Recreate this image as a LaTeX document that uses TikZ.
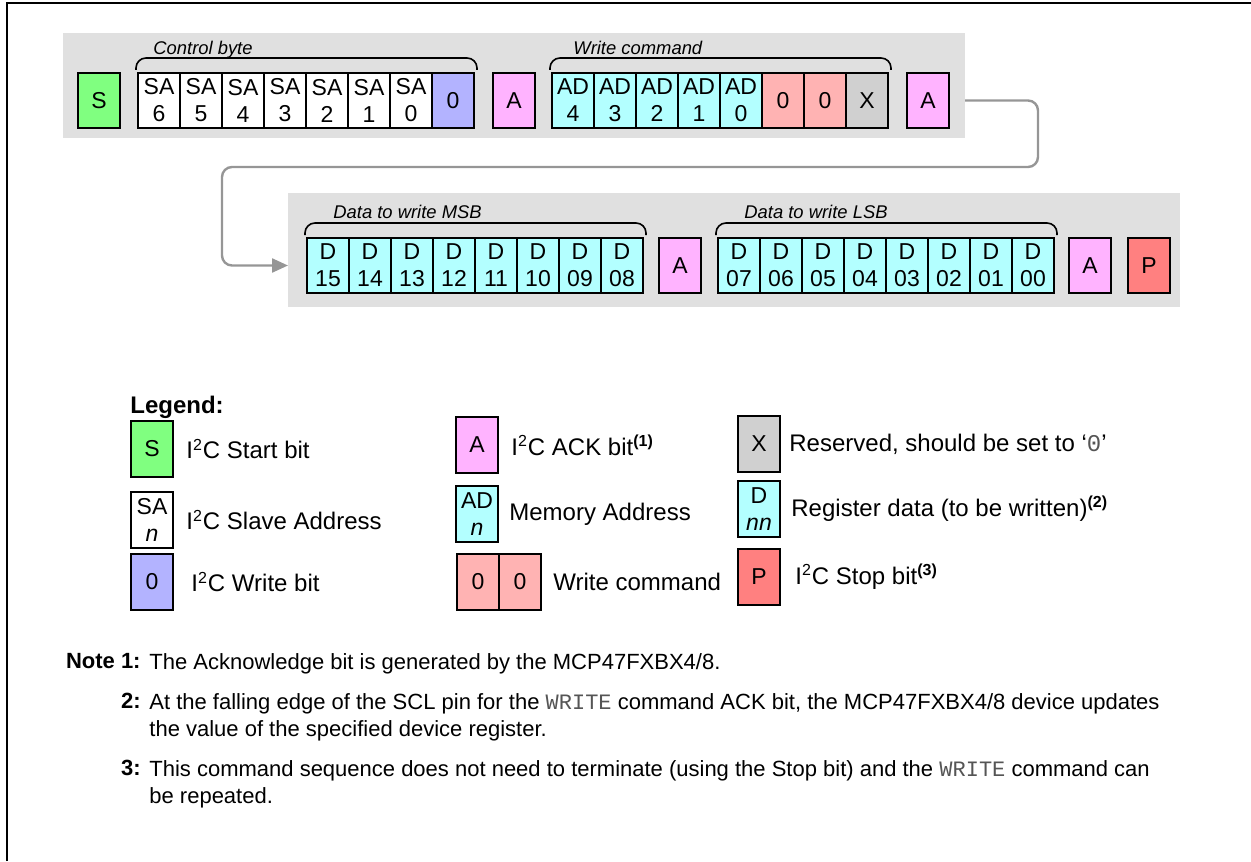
\documentclass[tikz,border=0pt]{standalone}
\usepackage{fontspec}
\setmainfont{Liberation Sans}
\setmonofont{Liberation Mono}
\usepackage{xcolor}
\usetikzlibrary{arrows.meta, positioning}
\definecolor{bandgray}{HTML}{E0E0E0}
\definecolor{startgreen}{HTML}{80FF80}
\definecolor{wrblue}{HTML}{B3B3FF}
\definecolor{ackpink}{HTML}{FFB3FF}
\definecolor{addrcyan}{HTML}{B3FFFF}
\definecolor{cmdsalmon}{HTML}{FFB3B3}
\definecolor{rsvgray}{HTML}{D0D0D0}
\definecolor{stopred}{HTML}{FF8080}
\definecolor{linkgray}{HTML}{969696}
\definecolor{monogray}{HTML}{555555}
\newcommand{\regname}[1]{{\ttfamily\color{monogray}#1}}

\begin{document}
\begin{tikzpicture}[x=0.5pt, y=-0.5pt,
  bit/.style={rectangle, draw=black, line width=0.8pt, fill=#1,
    minimum width=21pt, minimum height=27.5pt, inner sep=0pt, outer sep=0pt,
    align=center, font=\fontsize{11.5}{13.5}\selectfont},
  bit/.default=white,
  key/.style={bit=#1, minimum height=28pt},
  key/.default=white,
  grp/.style={draw=black, line width=0.8pt, rounded corners=5pt},
  grplbl/.style={inner sep=0pt, anchor=base west, font=\fontsize{9.2}{11}\selectfont\itshape},
  desc/.style={inner sep=0pt, font=\fontsize{12}{14}\selectfont},
  link/.style={draw=linkgray, line width=1.2pt, rounded corners=5pt,
    -{Triangle[length=8pt, width=7pt]}},
  note/.style={inner sep=0pt, anchor=north west, align=left, font=\fontsize{11}{13.5}\selectfont},
  notelbl/.style={inner sep=0pt, anchor=north east, font=\fontsize{11}{13.5}\selectfont\bfseries},
]
  \useasboundingbox (0,0) rectangle (1251,861);
  \draw[line width=1pt] (7,861) -- (7,3) -- (1251,3);

  % grey bands behind the two frames
  \fill[bandgray] (63,33) rectangle (965,138);
  \fill[bandgray] (288,193) rectangle (1180,307);

  % control byte and write command
  \node[bit=startgreen] (start) at (99,100.5) {S};
  \node[bit, right=9pt of start] (sa6) {SA\\6};
  \node[bit, right=0pt of sa6] (sa5) {SA\\5};
  \node[bit, right=0pt of sa5] (sa4) {SA\\4};
  \node[bit, right=0pt of sa4] (sa3) {SA\\3};
  \node[bit, right=0pt of sa3] (sa2) {SA\\2};
  \node[bit, right=0pt of sa2] (sa1) {SA\\1};
  \node[bit, right=0pt of sa1] (sa0) {SA\\0};
  \node[bit=wrblue, right=0pt of sa0] (wr) {0};
  \node[bit=ackpink, right=9.5pt of wr] (ack1) {A};
  \node[bit=addrcyan, right=8.5pt of ack1] (ad4) {AD\\4};
  \node[bit=addrcyan, right=0pt of ad4] (ad3) {AD\\3};
  \node[bit=addrcyan, right=0pt of ad3] (ad2) {AD\\2};
  \node[bit=addrcyan, right=0pt of ad2] (ad1) {AD\\1};
  \node[bit=addrcyan, right=0pt of ad1] (ad0) {AD\\0};
  \node[bit=cmdsalmon, right=0pt of ad0] (cmd1) {0};
  \node[bit=cmdsalmon, right=0pt of cmd1] (cmd0) {0};
  \node[bit=rsvgray, right=0pt of cmd0] (rsv) {X};
  \node[bit=ackpink, right=9.5pt of rsv] (ack2) {A};

  \draw[grp] ([shift={(-1pt,1.5pt)}]sa6.north west) -- ++(0,6pt) -| ([shift={(1.5pt,1.5pt)}]wr.north east);
  \node[grplbl] (ctrl) at ([shift={(7.5pt,9pt)}]sa6.north west) {Control byte};
  \draw[grp] ([shift={(-1pt,1.5pt)}]ad4.north west) -- ++(0,6pt) -| ([shift={(1.5pt,1.5pt)}]rsv.north east);
  \node[grplbl] (wcmd) at ([shift={(10.5pt,9pt)}]ad4.north west) {Write command};

  % data bytes
  \node[bit=addrcyan] (d15) at (328,265.5) {D\\15};
  \node[bit=addrcyan, right=0pt of d15] (d14) {D\\14};
  \node[bit=addrcyan, right=0pt of d14] (d13) {D\\13};
  \node[bit=addrcyan, right=0pt of d13] (d12) {D\\12};
  \node[bit=addrcyan, right=0pt of d12] (d11) {D\\11};
  \node[bit=addrcyan, right=0pt of d11] (d10) {D\\10};
  \node[bit=addrcyan, right=0pt of d10] (d09) {D\\09};
  \node[bit=addrcyan, right=0pt of d09] (d08) {D\\08};
  \node[bit=ackpink, right=8pt of d08] (ack3) {A};
  \node[bit=addrcyan, right=8.5pt of ack3] (d07) {D\\07};
  \node[bit=addrcyan, right=0pt of d07] (d06) {D\\06};
  \node[bit=addrcyan, right=0pt of d06] (d05) {D\\05};
  \node[bit=addrcyan, right=0pt of d05] (d04) {D\\04};
  \node[bit=addrcyan, right=0pt of d04] (d03) {D\\03};
  \node[bit=addrcyan, right=0pt of d03] (d02) {D\\02};
  \node[bit=addrcyan, right=0pt of d02] (d01) {D\\01};
  \node[bit=addrcyan, right=0pt of d01] (d00) {D\\00};
  \node[bit=ackpink, right=7.5pt of d00] (ack4) {A};
  \node[bit=stopred, right=8.5pt of ack4] (stop) {P};

  \draw[grp] ([shift={(-1pt,1.5pt)}]d15.north west) -- ++(0,6pt) -| ([shift={(1.5pt,1.5pt)}]d08.north east);
  \node[grplbl] (msb) at ([shift={(13pt,9.5pt)}]d15.north west) {Data to write MSB};
  \draw[grp] ([shift={(-1pt,1.5pt)}]d07.north west) -- ++(0,6pt) -| ([shift={(1.5pt,1.5pt)}]d00.north east);
  \node[grplbl] (lsb) at ([shift={(13pt,9.5pt)}]d07.north west) {Data to write LSB};

  \draw[link] ([xshift=8pt]ack2.east) -| (1038,167) -| (222,265.5) -- ([xshift=-9.5pt]d15.west);

  % legend
  \node[inner sep=0pt, anchor=west, font=\fontsize{12}{14}\selectfont\bfseries] (legend) at (130,407) {Legend:};
  \node[key=startgreen] (kS) at (152,449) {S};
  \node[desc, right=6.5pt of kS] (tS) {I\textsuperscript{2}C Start bit};
  \node[key] (kSA) at (152,520) {SA\\\textit{n}};
  \node[desc, right=6.5pt of kSA] (tSA) {I\textsuperscript{2}C Slave Address};
  \node[key=wrblue] (kW) at (152,582) {0};
  \node[desc, right=9pt of kW] (tW) {I\textsuperscript{2}C Write bit};

  \node[key=ackpink] (kA) at (477,445) {A};
  \node[desc, right=6.5pt of kA] (tA) {I\textsuperscript{2}C ACK bit\textsuperscript{\textbf{(1)}}};
  \node[key=addrcyan] (kAD) at (477,514) {AD\\\textit{n}};
  \node[desc, right=5.5pt of kAD] (tAD) {Memory Address};
  \node[key=cmdsalmon] (kC1) at (478,582) {0};
  \node[key=cmdsalmon, right=0pt of kC1] (kC0) {0};
  \node[desc, right=6pt of kC0] (tC) {Write command};

  \node[key=rsvgray] (kX) at (759,444) {X};
  \node[desc, right=4.5pt of kX] (tX) {Reserved, should be set to `\regname{0}'};
  \node[key=addrcyan] (kD) at (759,509) {D\\\textit{nn}};
  \node[desc, right=5.5pt of kD] (tD) {Register data (to be written)\textsuperscript{\textbf{(2)}}};
  \node[key=stopred] (kP) at (759,577) {P};
  \node[desc, right=7.5pt of kP] (tP) {I\textsuperscript{2}C Stop bit\textsuperscript{\textbf{(3)}}};

  % notes
  \node[notelbl] (n1lbl) at (141,653) {Note 1:};
  \node[note] (n1) at (149,653) {The Acknowledge bit is generated by the MCP47FXBX4/8.};
  \node[notelbl] (n2lbl) at (141,693) {2:};
  \node[note] (n2) at (149,693) {At the falling edge of the SCL pin for the \regname{WRITE} command ACK bit, the MCP47FXBX4/8 device updates\\the value of the specified device register.};
  \node[notelbl] (n3lbl) at (141,760) {3:};
  \node[note] (n3) at (149,760) {This command sequence does not need to terminate (using the Stop bit) and the \regname{WRITE} command can\\be repeated.};
\end{tikzpicture}
\end{document}
